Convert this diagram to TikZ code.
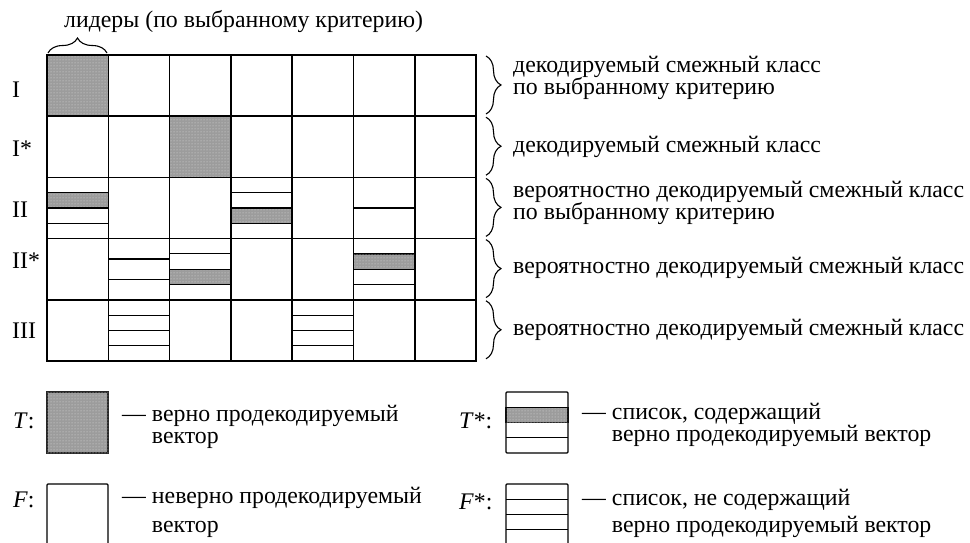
\documentclass[tikz,border=0pt]{standalone}
\usepackage{fontspec}
\setmainfont{Liberation Serif}
\usetikzlibrary{decorations.pathreplacing,patterns}
\newcommand\cellsplit[4]{%
  \pgfmathsetmacro\xa{47+61.3*(#1)}%
  \pgfmathsetmacro\xb{\xa+61.3}%
  \pgfmathsetmacro\ya{55+61.2*(#2)}%
  \pgfmathsetmacro\hh{61.2/(#3)}%
  \ifnum#4>0
    \fill[hit] (\xa,\ya+\hh*#4-\hh) rectangle (\xb,\ya+\hh*#4);
  \fi
  \pgfmathtruncatemacro\nn{#3-1}%
  \foreach \k in {1,...,\nn}{\draw[sub] (\xa,\ya+\hh*\k) -- (\xb,\ya+\hh*\k);}%
}
\begin{document}
\begin{tikzpicture}[x=1pt,y=-1pt,
  grid/.style={line width=1.5pt},
  sub/.style={line width=1.1pt},
  hit/.style={fill=gray!78, draw=black!85, line width=1.2pt,
    postaction={pattern=dots, pattern color=white!75!gray}},
  lbl/.style={anchor=base west, inner sep=0pt, font=\fontsize{23.8}{22}\selectfont},
  brc/.style={decorate, decoration={brace, amplitude=15pt}, line width=1.1pt},
  legbox/.style={draw, line width=1.3pt, rounded corners=1pt}
]
\useasboundingbox (0,0) rectangle (970,543);
% shaded full cells
\fill[hit] (47,55) rectangle (108.3,116.2);
\fill[hit] (169.6,116.2) rectangle (230.9,177.4);
% subdivided cells
\cellsplit{0}{2}{4}{2}
\cellsplit{3}{2}{4}{3}
\cellsplit{5}{2}{2}{0}
\cellsplit{1}{3}{3}{0}
\cellsplit{2}{3}{4}{3}
\cellsplit{5}{3}{4}{2}
\cellsplit{1}{4}{4}{0}
\cellsplit{4}{4}{4}{0}
% grid
\draw[grid] (47,55) rectangle (476.1,361);
\foreach \c in {1,...,6}{\draw[grid] (47+61.3*\c,55) -- (47+61.3*\c,361);}
\foreach \r in {1,...,4}{\draw[grid] (47,55+61.2*\r) -- (476.1,55+61.2*\r);}
% top brace and label
\draw[brc] (48,53) -- (107,53);
\node[lbl] (lead) at (64,28) {лидеры (по выбранному критерию)};
% right braces
\foreach \r in {0,...,4}{\draw[brc] (486,56+61.2*\r) -- (486,114+61.2*\r);}
\node[lbl] (d1a) at (513,73) {декодируемый смежный класс};
\node[lbl] (d1b) at (513,95) {по выбранному критерию};
\node[lbl] (d2) at (513,153) {декодируемый смежный класс};
\node[lbl] (d3a) at (513,197) {вероятностно декодируемый смежный класс};
\node[lbl] (d3b) at (513,219) {по выбранному критерию};
\node[lbl] (d4) at (513,273) {вероятностно декодируемый смежный класс};
\node[lbl] (d5) at (513,335) {вероятностно декодируемый смежный класс};
% row labels
\node[lbl] (r1) at (12,97) {I};
\node[lbl] (r2) at (12,157) {I*};
\node[lbl] (r3) at (12,217) {II};
\node[lbl] (r4) at (12,268) {II*};
\node[lbl] (r5) at (12,338) {III};
% legend
\node[lbl] (lt) at (13,428) {\textit{T}:};
\fill[hit] (47,392) rectangle (108,453);
\node[lbl] (tt1) at (122,421) {— верно продекодируемый};
\node[lbl] (tt2) at (122,443) {\hphantom{— }вектор};
\node[lbl] (lf) at (13,507) {\textit{F}:};
\draw[legbox] (47,484) rectangle (108,545);
\node[lbl] (ft1) at (122,503) {— неверно продекодируемый};
\node[lbl] (ft2) at (122,532) {\hphantom{— }вектор};
\node[lbl] (lts) at (459,428) {\textit{T}*:};
\fill[hit] (506,407.25) rectangle (568,422.5);
\draw[legbox] (506,392) rectangle (568,453);
\draw[sub] (506,407.25) -- (568,407.25) (506,437.75) -- (568,437.75);
\node[lbl] (ts1) at (582,419) {— список, содержащий};
\node[lbl] (ts2) at (582,441) {\hphantom{— }верно продекодируемый вектор};
\node[lbl] (lfs) at (459,509) {\textit{F}*:};
\draw[legbox] (506,484) rectangle (568,545);
\draw[sub] (506,499.25) -- (568,499.25) (506,514.5) -- (568,514.5) (506,529.75) -- (568,529.75);
\node[lbl] (fs1) at (582,505) {— список, не содержащий};
\node[lbl] (fs2) at (582,532) {\hphantom{— }верно продекодируемый вектор};
\end{tikzpicture}
\end{document}
